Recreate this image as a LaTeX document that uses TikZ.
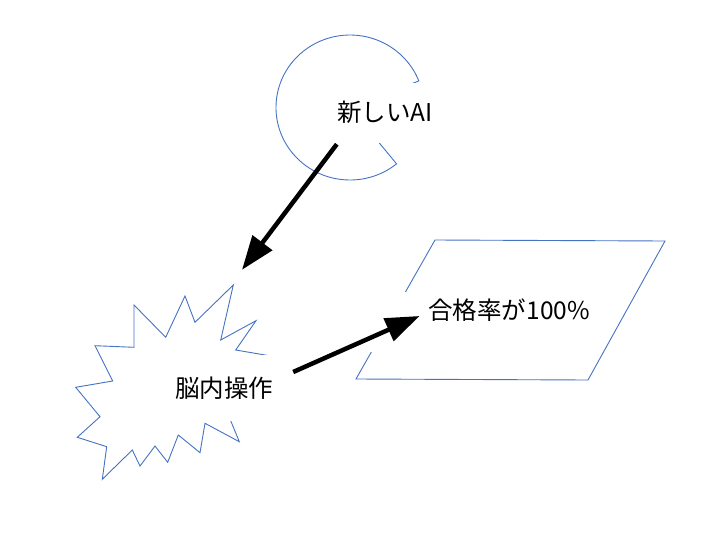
\documentclass[tikz,border=0pt]{standalone}
\usepackage{fontspec}
\setmainfont{Noto Sans CJK JP}
\usetikzlibrary{arrows.meta, calc}
\definecolor{clroutline}{HTML}{4472C4}
\definecolor{clrarrow}{HTML}{000000}
\definecolor{clrtext}{HTML}{000000}

\begin{document}
\begin{tikzpicture}[
    x=1pt, y=-1pt,
    every node/.style={font=\fontsize{24.5}{28}\selectfont, text=clrtext},
    outline/.style={draw=clroutline, line width=0.9pt, line join=miter},
    textbox/.style={fill=white, inner sep=0pt},
    bigarrow/.style={-{Triangle[length=34pt, width=24pt]}, line width=4.5pt, color=clrarrow},
]
\useasboundingbox (0,0) rectangle (724,536);
% shapes
\draw[outline] (350,107.5) -- ++(51:74 and 72.5) arc[start angle=51, end angle=338.5, x radius=74, y radius=72.5] -- cycle;
\draw[outline] (273.8,356.5) -- (235.7,350) -- (256,320.7) -- (220.7,340) -- (233.3,285) -- (195,322.3) -- (185,296) -- (165.7,337.3) -- (134,305) -- (134,347.3) -- (95,345.7) -- (112.7,381) -- (75.7,387.3) -- (100,416.7) -- (77.3,437.3) -- (106.7,446.7) -- (102.3,479.3) -- (132.3,450) -- (140,466) -- (155,446) -- (167.7,462.3) -- (178.3,435) -- (200,452.7) -- (205,423.3) -- (239.3,441.7) -- (226.4,410.2) -- (250,392) -- cycle;
\draw[outline] (435,240) -- (665,241) -- (588,380) -- (356,379) -- cycle;
% texts
\node[textbox, minimum width=100pt, minimum height=60pt] (ai) at (385,112.5) {新しいAI};
\node[textbox, minimum width=128pt, minimum height=66pt] (brain) at (224,388) {脳内操作};
\node[textbox, text width=217pt, align=right, inner xsep=8pt, text height=27pt, text depth=33pt, anchor=base east] (pass) at (598,319) {合格率が100\%};
% arrows
\draw[bigarrow] ([shift={(2,1.5)}]ai.south west) -- ([shift={(18,-85)}]brain.north);
\draw[bigarrow] ([shift={(5,-16)}]brain.east) -- ([shift={(55,-6)}]pass.west);
\end{tikzpicture}
\end{document}
